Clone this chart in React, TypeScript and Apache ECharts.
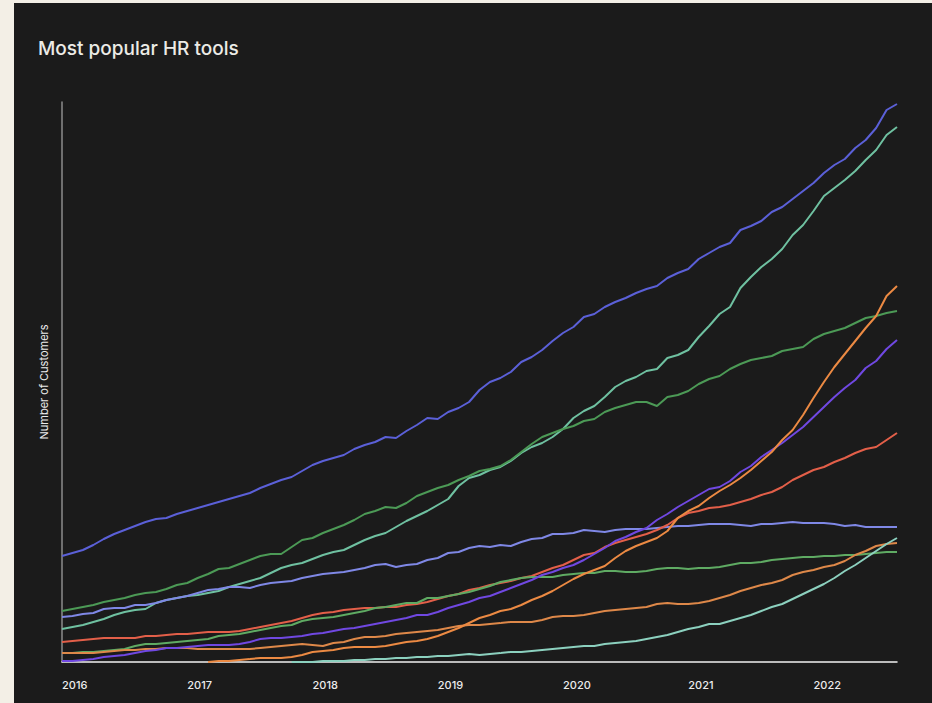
import React, { useEffect, useRef } from "react";
import * as echarts from "echarts";

const title = "Most popular HR tools";
const yAxisName = "Number of Customers";

// Monthly categories, Jan 2016 .. Sep 2022
const months: string[] = [];
for (let y = 2016; y <= 2022; y++) {
  for (let m = 1; m <= 12; m++) {
    if (y === 2022 && m > 9) break;
    months.push(`${y}-${String(m).padStart(2, "0")}`);
  }
}

const N = null;

const blueTop = [106,109,112,117,123,128,132,136,140,143,144,148,151,154,157,160,163,166,169,174,178,182,185,191,197,201,204,207,213,217,220,225,224,231,237,244,243,250,254,260,272,280,284,290,300,305,312,321,329,335,345,348,355,360,364,369,373,376,384,389,393,403,409,415,419,432,436,441,450,455,463,471,479,489,497,503,514,522,534,552,558];
const tealLine = [33,35,37,40,43,47,50,52,53,59,62,64,66,67,69,71,75,78,81,84,89,94,97,99,103,107,110,112,117,122,126,129,135,141,146,151,157,163,176,184,187,192,195,201,209,215,219,225,233,244,251,256,265,275,281,285,291,293,304,307,312,325,336,348,355,374,385,395,403,413,427,437,451,466,474,482,491,502,512,527,535];
const greenLine = [51,53,55,57,60,62,64,67,69,70,73,77,79,84,88,93,94,98,102,106,108,108,115,122,124,129,133,137,142,148,151,155,154,159,166,170,174,177,182,186,191,193,196,202,210,218,225,229,233,236,241,243,250,254,257,260,260,256,265,267,271,278,283,286,293,298,302,304,306,311,313,315,323,328,331,334,339,344,346,349,351];
const periwinkleLine = [45,46,48,49,53,54,54,57,57,59,62,64,66,69,72,73,75,75,74,77,79,80,81,84,86,88,89,90,92,94,97,98,95,97,98,102,104,109,110,114,116,115,117,116,120,123,124,128,128,129,132,131,130,132,133,133,133,134,135,136,136,137,138,138,138,137,136,138,138,139,140,139,139,139,138,136,137,135,135,135,135];
const redLine = [20,21,22,23,24,24,24,24,26,26,27,28,28,29,30,30,30,31,33,35,37,39,41,44,47,49,50,52,53,54,54,55,55,57,58,60,63,66,68,72,74,77,79,81,84,86,90,94,97,102,107,109,115,119,122,125,128,132,137,144,149,151,154,155,157,160,163,167,170,175,182,187,192,195,200,204,209,213,215,222,229];
const greenLightLine = [9,9,10,10,11,12,13,16,18,18,19,20,21,22,23,26,27,28,30,32,34,36,37,41,43,44,45,47,49,51,54,55,57,59,59,64,64,66,68,70,73,76,80,82,84,85,85,85,87,88,89,89,91,91,90,90,91,93,94,94,93,94,94,95,97,99,99,100,102,103,104,105,105,106,106,107,107,108,109,110,110];
const orangeLow = [9,9,9,9,10,11,12,12,13,13,14,14,14,13,13,13,13,13,13,14,15,16,17,18,17,16,19,20,23,25,25,26,28,29,30,31,32,34,36,37,37,38,39,40,40,40,42,45,46,46,47,49,51,52,53,54,55,58,59,58,58,59,61,64,67,71,74,77,79,82,87,90,92,95,97,101,107,111,116,118,119];
const purpleLine = [1,1,2,3,5,6,7,9,11,12,14,14,15,16,17,17,17,18,20,23,24,24,25,26,28,29,31,33,34,36,38,40,42,44,47,47,50,54,57,60,64,66,70,74,78,82,87,90,94,97,102,108,114,121,125,130,134,142,148,155,161,167,173,175,181,190,196,205,212,219,227,235,245,255,265,274,282,294,301,313,322];
const orangeTop = [N,N,N,N,N,N,N,N,N,N,N,N,N,N,0,1,1,2,3,4,4,4,5,7,10,11,12,14,15,15,15,16,18,20,21,23,26,30,34,39,44,47,51,53,57,62,66,71,77,83,88,92,96,104,111,116,120,124,131,144,151,156,164,171,177,184,192,201,210,222,232,247,264,280,295,308,321,334,346,366,376];
const mintLine = [N,N,N,N,N,N,N,N,N,N,N,N,N,N,N,N,N,N,N,N,N,N,0,0,0,1,1,1,2,2,3,3,4,4,5,5,6,6,7,8,7,8,9,10,10,11,12,13,14,15,16,16,18,19,20,21,23,25,27,30,33,35,38,38,41,44,47,51,55,58,63,68,73,78,84,91,97,104,111,118,124];

const seriesList = [
  { name: "Tool A", data: blueTop, color: "#5b60d8" },
  { name: "Tool B", data: tealLine, color: "#6fc1a1" },
  { name: "Tool C", data: greenLine, color: "#4c9a56" },
  { name: "Tool D", data: periwinkleLine, color: "#7f88e6" },
  { name: "Tool E", data: redLine, color: "#e35f49" },
  { name: "Tool F", data: greenLightLine, color: "#5fab63" },
  { name: "Tool G", data: orangeLow, color: "#de8849" },
  { name: "Tool H", data: purpleLine, color: "#7048e2" },
  { name: "Tool I", data: orangeTop, color: "#ec8a43" },
  { name: "Tool J", data: mintLine, color: "#8cd1bf" },
];

export default function App() {
  const ref = useRef<HTMLDivElement>(null);
  useEffect(() => {
    if (!ref.current) return;
    const chart = echarts.init(ref.current, undefined, { renderer: "svg" });
    chart.setOption({
      animation: false,
      backgroundColor: "#1b1b1b",
      title: {
        text: title,
        left: 19,
        top: 31,
        textStyle: {
          color: "#ecebe6",
          fontFamily: "Inter",
          fontSize: 19,
          fontWeight: 500,
        },
      },
      grid: { left: 48, right: 35, top: 99, bottom: 41, containLabel: false },
      xAxis: {
        type: "category",
        data: months,
        boundaryGap: false,
        axisLine: { show: true, lineStyle: { color: "#f2f2f2", width: 1.5 } },
        axisTick: { show: false },
        splitLine: { show: false },
        axisLabel: {
          interval: (idx: number) => idx % 12 === 0,
          formatter: (v: string) => v.slice(0, 4),
          align: "left",
          margin: 17,
          color: "#ececec",
          fontFamily: "Inter",
          fontSize: 11,
          fontWeight: 500,
        },
      },
      yAxis: {
        type: "value",
        min: 0,
        max: 560,
        name: yAxisName,
        nameLocation: "middle",
        nameGap: 13,
        nameTextStyle: { color: "#ececec", fontFamily: "Inter", fontSize: 11 },
        axisLine: { show: true, lineStyle: { color: "#8c8c8c", width: 1.5 } },
        axisTick: { show: false },
        axisLabel: { show: false },
        splitLine: { show: false },
      },
      series: seriesList.map((s) => ({
        name: s.name,
        type: "line",
        data: s.data,
        symbol: "none",
        connectNulls: false,
        lineStyle: { color: s.color, width: 2 },
        itemStyle: { color: s.color },
      })),
    });
    return () => chart.dispose();
  }, []);
  return (
    <div style={{ position: "fixed", left: 0, top: 0, width: 932, height: 703, background: "#f3efe6" }}>
      <div style={{ position: "absolute", left: 14, top: 3, width: 918, height: 700 }}>
        <div ref={ref} style={{ width: 918, height: 700 }} />
      </div>
    </div>
  );
}
